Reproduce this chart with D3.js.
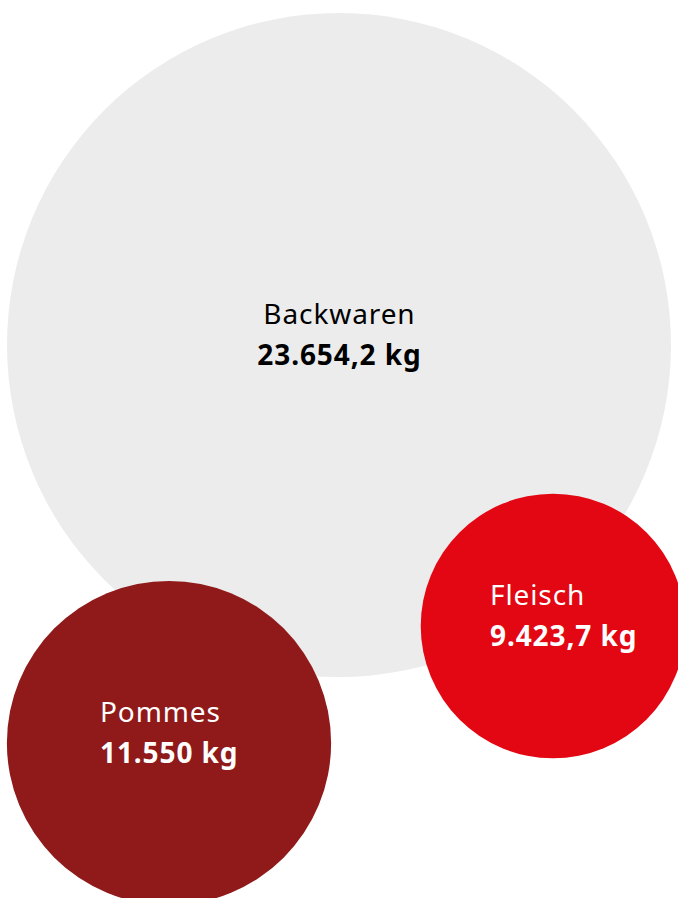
<!DOCTYPE html>
<html><head><meta charset="utf-8">
<script src="https://cdn.jsdelivr.net/npm/d3@7"></script>
<style>html,body{margin:0;padding:0;background:#fff;overflow:hidden}</style>
</head><body>
<svg id="chart" width="678" height="898"></svg>
<script>
const categories = ["Backwaren", "Fleisch", "Pommes"];
const values = [23654.2, 9423.7, 11550];
const valueLabels = ["23.654,2 kg", "9.423,7 kg", "11.550 kg"];
const colors = ["#ececec", "#e30613", "#8f1a19"];
const textColors = ["#000000", "#ffffff", "#ffffff"];

// layout (centres of the bubbles, text offset from centre)
const layout = [
  {cx: 339, cy: 345, align: "middle", dx: 0},
  {cx: 553, cy: 626, align: "start", dx: -63},
  {cx: 169, cy: 743, align: "start", dx: -69}
];

const svg = d3.select("#chart");
const r = d3.scaleLinear().domain([0, d3.max(values)]).range([0, 332]);
const FONT = "'Noto Sans', 'Open Sans', sans-serif";

const data = categories.map((c, i) => ({c, v: values[i], lab: valueLabels[i], col: colors[i], tc: textColors[i], ...layout[i]}));

svg.selectAll("circle").data(data).join("circle")
  .attr("cx", d => d.cx).attr("cy", d => d.cy).attr("r", d => r(d.v))
  .attr("fill", d => d.col);

const g = svg.selectAll("g.lbl").data(data).join("g").attr("class", "lbl");
g.each(function(d) {
  const sel = d3.select(this);
  const t1 = sel.append("text").text(d.c)
    .attr("font-family", FONT).attr("font-size", 28).attr("font-weight", 400)
    .attr("letter-spacing", 0.9)
    .attr("fill", d.tc).attr("y", d.cy - 21);
  const t2 = sel.append("text").text(d.lab)
    .attr("font-family", FONT).attr("font-size", 28).attr("font-weight", 700)
    .attr("letter-spacing", 0.9)
    .attr("fill", d.tc).attr("y", d.cy + 20);
  if (d.align === "middle") {
    [t1, t2].forEach(t => {
      const w = t.node().getComputedTextLength() - 0.9;
      t.attr("x", d.cx - w / 2);
    });
  } else {
    t1.attr("x", d.cx + d.dx); t2.attr("x", d.cx + d.dx);
  }
});
</script>
</body></html>
